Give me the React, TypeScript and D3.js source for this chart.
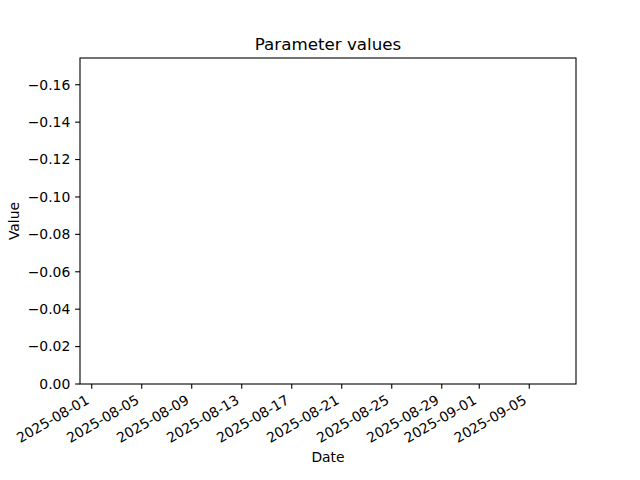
import React from 'react';
import * as d3 from 'd3';

// the chart has no plotted data: the series is empty
const dates: string[] = [];
const values: number[] = [];

const xTickLabels = [
  '2025-08-01', '2025-08-05', '2025-08-09', '2025-08-13', '2025-08-17',
  '2025-08-21', '2025-08-25', '2025-08-29', '2025-09-01', '2025-09-05',
];
const yTickValues = [0, -0.02, -0.04, -0.06, -0.08, -0.1, -0.12, -0.14, -0.16];
const xDomain = ['2025-07-31T01:30:00Z', '2025-09-08T17:45:00Z'];
const yDomain = [0, -0.1743];

const width = 640;
const height = 480;
const margin = { left: 80, right: 64, top: 58, bottom: 96 };
const font = 'DejaVu Sans, sans-serif';
const fs = 13.9;

const App = () => {
  const x = d3.scaleUtc()
    .domain(xDomain.map(d => new Date(d)))
    .range([margin.left, width - margin.right]);
  // inverted axis: 0 at the bottom, negatives growing upward
  const y = d3.scaleLinear()
    .domain(yDomain)
    .range([height - margin.bottom, margin.top]);

  const line = d3.line<[Date, number]>()
    .x(d => x(d[0]))
    .y(d => y(d[1]));
  const points: [Date, number][] = dates.map((d, i) => [new Date(d), values[i]]);

  const x0 = margin.left, x1 = width - margin.right;
  const y0 = margin.top, y1 = height - margin.bottom;
  const tickLen = 4.86;
  const fmt = (v: number) => (v < 0 ? '\u2212' : '') + Math.abs(v).toFixed(2);

  return (
    <svg width={width} height={height} style={{ position: 'absolute', left: 0, top: 0, background: '#fff' }}
      fontFamily={font}>
      <rect x={0} y={0} width={width} height={height} fill="#fff" />
      <text x={(x0 + x1) / 2} y={49.5} textAnchor="middle" fontSize={16.7}>Parameter values</text>

      {points.length > 0 && <path d={line(points) || ''} fill="none" stroke="#1f77b4" strokeWidth={2} />}

      {/* x ticks */}
      {xTickLabels.map(t => {
        const px = x(new Date(t + 'T00:00:00Z'));
        return (
          <g key={t}>
            <line x1={px} x2={px} y1={y1} y2={y1 + tickLen} stroke="#000" strokeWidth={1.1} />
            <text transform={`translate(${px - 1.6},${y1 + tickLen + 4.86 + 9.2}) rotate(-30)`}
              textAnchor="end" fontSize={fs}>{t}</text>
          </g>
        );
      })}

      {/* y ticks */}
      {yTickValues.map(v => {
        const py = y(v);
        return (
          <g key={v}>
            <line x1={x0 - tickLen} x2={x0} y1={py} y2={py} stroke="#000" strokeWidth={1.1} />
            <text x={x0 - tickLen - 4.86} y={py} dy="0.35em" textAnchor="end" fontSize={fs}>{fmt(v)}</text>
          </g>
        );
      })}

      <rect x={x0} y={y0} width={x1 - x0} height={y1 - y0} fill="none" stroke="#000" strokeWidth={1.1} />

      <text x={(x0 + x1) / 2} y={461.7} textAnchor="middle" fontSize={fs}>Date</text>
      <text transform={`translate(18.8,${(y0 + y1) / 2}) rotate(-90)`} textAnchor="middle" fontSize={fs}>Value</text>
    </svg>
  );
};

export default App;
